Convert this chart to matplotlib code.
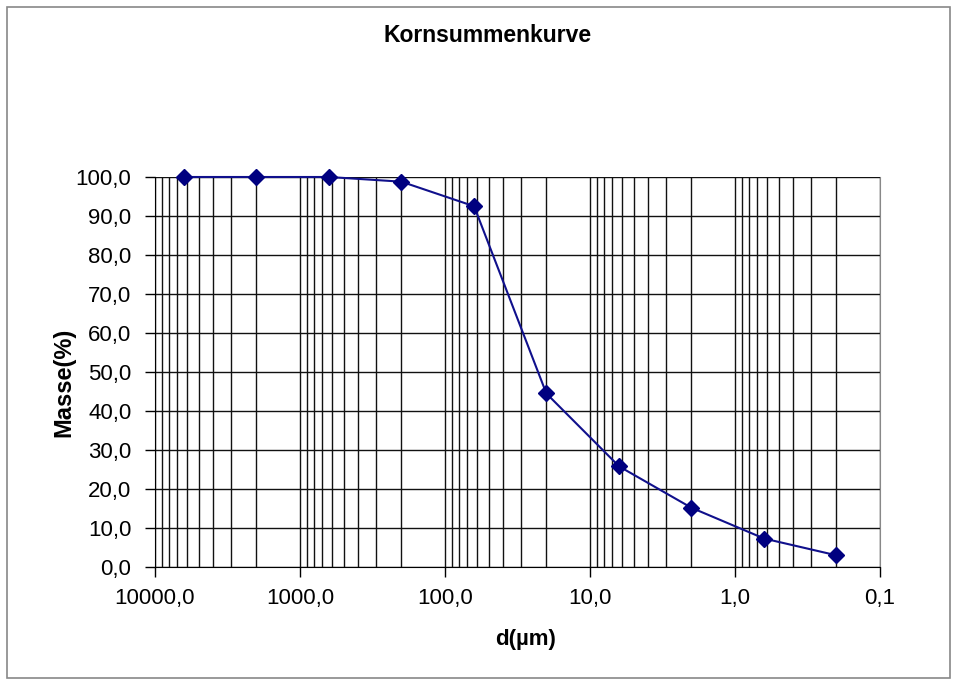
"""Kornsummenkurve: cumulative grain size curve on an inverted log axis"""

import matplotlib
matplotlib.use("Agg")
import matplotlib.pyplot as plt
from matplotlib.patches import Rectangle
from matplotlib.ticker import FixedLocator, LogLocator, NullFormatter

plt.rcParams['font.family'] = ['Liberation Sans', 'DejaVu Sans']

# grain diameter (µm) and cumulative mass passing (%)
diameter = [6300, 2000, 630, 200, 63, 20, 6.3, 2, 0.63, 0.2]
mass = [100.0, 100.0, 100.0, 98.8, 92.5, 44.5, 25.8, 15.2, 7.3, 3.0]

x_ticks = [10000, 1000, 100, 10, 1, 0.1]
x_tick_labels = ["10000,0", "1000,0", "100,0", "10,0", "1,0", "0,1"]
y_ticks = list(range(0, 101, 10))

W, H = 955, 685
fig = plt.figure(figsize=(W / 100, H / 100), dpi=100)
# plot area in pixels: x 155..880, y 177..567
ax = fig.add_axes([155 / W, 1 - 567 / H, 725 / W, 390 / H])

# grey frame around the whole chart
fig.patches.append(Rectangle((7 / W, 7 / H), 943 / W, 671 / H,
                             transform=fig.transFigure, fill=False,
                             edgecolor="#888888", linewidth=1.2))

ax.plot(diameter, mass, color="#10108c", linewidth=1.5, marker="D",
        markersize=8, markerfacecolor="#000080", markeredgecolor="#000080",
        zorder=3, clip_on=False)

ax.set_xscale("log")
ax.set_xlim(10000, 0.1)
ax.set_ylim(0, 100)

ax.xaxis.set_major_locator(FixedLocator(x_ticks))
ax.set_xticklabels(x_tick_labels)
ax.xaxis.set_minor_locator(LogLocator(base=10, subs=range(2, 10)))
ax.xaxis.set_minor_formatter(NullFormatter())
ax.set_yticks(y_ticks)
ax.set_yticklabels([f"{v:.1f}".replace(".", ",") for v in y_ticks])

# grid: every decade sub-step vertically, every 10 % horizontally
ax.grid(True, which="major", axis="both", color="#111111", linewidth=1.0)
ax.grid(True, which="minor", axis="x", color="#111111", linewidth=1.0)
ax.set_axisbelow(True)

ax.tick_params(axis="both", which="major", direction="out", length=7,
               width=1, labelsize=16, color="black")
ax.tick_params(axis="x", which="minor", length=0)
ax.tick_params(axis="x", pad=8)
ax.tick_params(axis="y", pad=10)

ax.spines["top"].set_visible(False)
ax.spines["right"].set_color("#888888")
ax.spines["left"].set_color("black")
ax.spines["bottom"].set_color("black")

fig.text(488 / W, 1 - 36 / H, "Kornsummenkurve", fontsize=16.5,
         fontweight="bold", ha="center", va="center")

ax.set_xlabel("d(µm)", fontsize=16, fontweight="bold", va="center")
ax.xaxis.set_label_coords((526 - 155) / 725, (567 - 640) / 390)
ax.set_ylabel("Masse(%)", fontsize=17, fontweight="bold", va="center")
ax.yaxis.set_label_coords((64 - 155) / 725, (567 - 382) / 390)

fig.savefig("out.png", dpi=100)
